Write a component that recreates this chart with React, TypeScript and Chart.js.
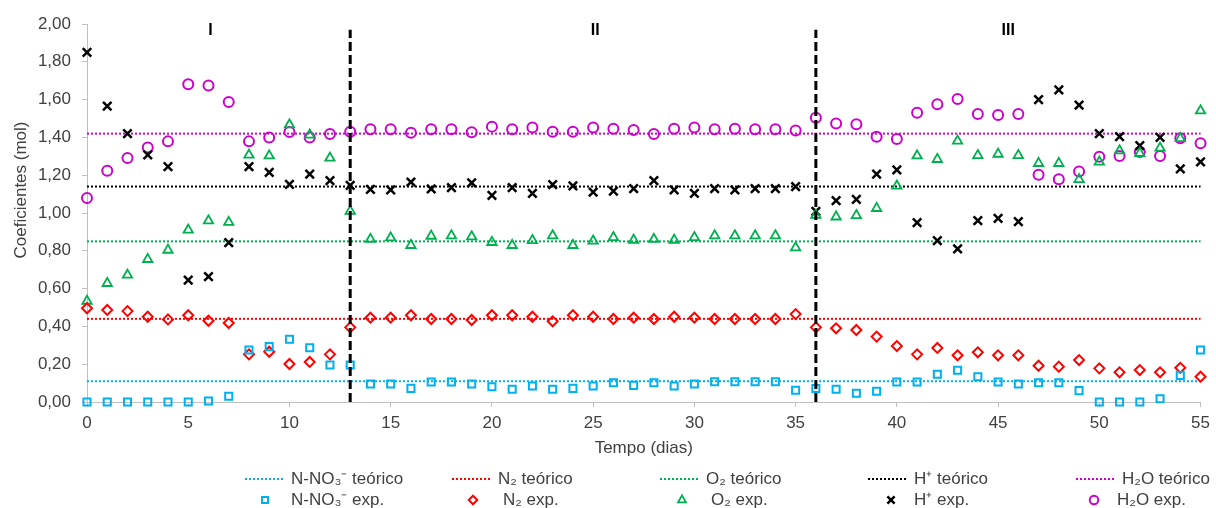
import React, { useEffect, useRef } from 'react';
import { Chart, registerables } from 'chart.js';

Chart.register(...registerables);

// ---------- data ----------
const days = [0, 1, 2, 3, 4, 5, 6, 7, 8, 9, 10, 11, 12, 13, 14, 15, 16, 17, 18, 19, 20, 21, 22, 23, 24, 25, 26, 27, 28, 29, 30, 31, 32, 33, 34, 35, 36, 37, 38, 39, 40, 41, 42, 43, 44, 45, 46, 47, 48, 49, 50, 51, 52, 53, 54, 55];

const no3Exp = [0, 0, 0, 0, 0, 0, 0.005, 0.03, 0.275, 0.293, 0.332, 0.287, 0.196, 0.196, 0.095, 0.095, 0.072, 0.106, 0.106, 0.095, 0.081, 0.067, 0.085, 0.067, 0.072, 0.085, 0.102, 0.088, 0.102, 0.085, 0.095, 0.107, 0.107, 0.107, 0.107, 0.062, 0.071, 0.067, 0.046, 0.057, 0.106, 0.106, 0.147, 0.168, 0.134, 0.106, 0.095, 0.102, 0.102, 0.06, 0, 0, 0, 0.017, 0.141, 0.275];

const n2Exp = [0.496, 0.487, 0.481, 0.451, 0.437, 0.459, 0.43, 0.418, 0.252, 0.266, 0.201, 0.212, 0.252, 0.395, 0.446, 0.446, 0.459, 0.439, 0.439, 0.434, 0.459, 0.459, 0.451, 0.427, 0.459, 0.451, 0.439, 0.446, 0.439, 0.451, 0.446, 0.439, 0.439, 0.439, 0.439, 0.465, 0.395, 0.39, 0.381, 0.346, 0.296, 0.252, 0.286, 0.247, 0.263, 0.247, 0.247, 0.192, 0.187, 0.222, 0.178, 0.157, 0.169, 0.157, 0.181, 0.134];

const o2Exp = [0.534, 0.628, 0.672, 0.755, 0.804, 0.91, 0.959, 0.951, 1.307, 1.303, 1.467, 1.413, 1.291, 1.01, 0.861, 0.869, 0.829, 0.878, 0.88, 0.875, 0.845, 0.829, 0.855, 0.88, 0.829, 0.852, 0.871, 0.857, 0.861, 0.857, 0.871, 0.88, 0.88, 0.88, 0.88, 0.817, 0.989, 0.98, 0.987, 1.025, 1.143, 1.303, 1.284, 1.381, 1.305, 1.312, 1.305, 1.263, 1.263, 1.178, 1.27, 1.33, 1.316, 1.344, 1.395, 1.541];

const hExp = [1.85, 1.566, 1.42, 1.307, 1.245, 0.645, 0.663, 0.843, 1.245, 1.215, 1.152, 1.206, 1.171, 1.146, 1.125, 1.122, 1.164, 1.127, 1.134, 1.16, 1.093, 1.134, 1.104, 1.15, 1.143, 1.11, 1.116, 1.129, 1.171, 1.122, 1.104, 1.129, 1.122, 1.129, 1.129, 1.139, 1.009, 1.065, 1.072, 1.206, 1.228, 0.949, 0.854, 0.81, 0.96, 0.972, 0.954, 1.6, 1.651, 1.571, 1.42, 1.404, 1.356, 1.4, 1.233, 1.27];

const h2oExp = [1.079, 1.224, 1.291, 1.347, 1.379, 1.681, 1.674, 1.587, 1.379, 1.399, 1.429, 1.4, 1.418, 1.43, 1.443, 1.443, 1.425, 1.443, 1.443, 1.427, 1.457, 1.443, 1.453, 1.43, 1.43, 1.453, 1.446, 1.439, 1.418, 1.446, 1.453, 1.443, 1.446, 1.443, 1.443, 1.436, 1.504, 1.474, 1.469, 1.404, 1.392, 1.531, 1.575, 1.603, 1.524, 1.519, 1.524, 1.203, 1.178, 1.219, 1.298, 1.302, 1.323, 1.302, 1.395, 1.369];

// theoretical coefficients (N-NO3-, N2, O2, H+, H2O)
const theoValues = [0.11, 0.44, 0.85, 1.14, 1.42];
const seriesNames = ['N-NO\u2083\u207B', 'N\u2082', 'O\u2082', 'H\u207A', 'H\u2082O'];
const expSeries = [no3Exp, n2Exp, o2Exp, hExp, h2oExp];

const phaseBoundaries = [13, 36];
const phaseTop = 1.97;
const phaseLabels = ['I', 'II', 'III'];
const phaseLabelX = [6.1, 25.1, 45.5];
const phaseLabelY = 1.965;

const xMin = 0;
const xMax = 55;
const xStep = 5;
const yMin = 0;
const yMax = 2;
const yStep = 0.2;

const xTitle = 'Tempo (dias)';
const yTitle = 'Coeficientes (mol)';

// ---------- styles ----------
const FONT = '"Liberation Sans", Arial, sans-serif';
const TEXT = '#404040';
const AXIS = '#BFBFBF';
const colors = ['#00B0F0', '#FF0000', '#00B050', '#000000', '#CC00CC'];
const pointStyles = ['rect', 'rectRot', 'triangle', 'crossRot', 'circle'];
const pointRadii = [5, 5, 5.4, 6, 5];
const pointWidths = [2, 2, 1.8, 2.5, 2];

function drawMarker(ctx: CanvasRenderingContext2D, style: string, x: number, y: number, r: number) {
  ctx.beginPath();
  if (style === 'rect') {
    const s = r * Math.SQRT1_2;
    ctx.rect(x - s, y - s, 2 * s, 2 * s);
  } else if (style === 'rectRot') {
    ctx.moveTo(x - r, y);
    ctx.lineTo(x, y - r);
    ctx.lineTo(x + r, y);
    ctx.lineTo(x, y + r);
    ctx.closePath();
  } else if (style === 'triangle') {
    ctx.moveTo(x, y - r);
    ctx.lineTo(x + r * 0.866, y + r * 0.5);
    ctx.lineTo(x - r * 0.866, y + r * 0.5);
    ctx.closePath();
  } else if (style === 'crossRot') {
    const s = r * Math.SQRT1_2;
    ctx.moveTo(x - s, y - s);
    ctx.lineTo(x + s, y + s);
    ctx.moveTo(x + s, y - s);
    ctx.lineTo(x - s, y + s);
  } else {
    ctx.arc(x, y, r, 0, Math.PI * 2);
  }
  ctx.stroke();
}

const overlayPlugin = {
  id: 'overlay',
  afterDraw(chart: any) {
    const ctx: CanvasRenderingContext2D = chart.ctx;
    const xs = chart.scales.x;
    const ys = chart.scales.y;
    ctx.save();

    // phase labels
    ctx.font = `bold 16px ${FONT}`;
    ctx.fillStyle = '#000';
    ctx.textAlign = 'center';
    ctx.textBaseline = 'middle';
    phaseLabels.forEach((t, i) => {
      ctx.fillText(t, xs.getPixelForValue(phaseLabelX[i]), ys.getPixelForValue(phaseLabelY));
    });

    // y axis title
    ctx.save();
    ctx.font = `17px ${FONT}`;
    ctx.fillStyle = TEXT;
    ctx.translate(21, 190);
    ctx.rotate(-Math.PI / 2);
    ctx.textAlign = 'center';
    ctx.textBaseline = 'middle';
    ctx.fillText(yTitle, 0, 0);
    ctx.restore();

    // legend
    const colX = [245, 452, 660, 868, 1076];
    const markerOff = [20, 21, 22, 23, 18];
    const textOff2 = [46, 51, 51, 46, 41];
    const row1 = 479;
    const row2 = 500;
    ctx.font = `17px ${FONT}`;
    ctx.textAlign = 'left';
    ctx.textBaseline = 'middle';
    for (let i = 0; i < 5; i++) {
      const x0 = colX[i];
      ctx.strokeStyle = colors[i];
      ctx.lineWidth = 2;
      ctx.setLineDash([2, 2]);
      ctx.beginPath();
      ctx.moveTo(x0, row1);
      ctx.lineTo(x0 + 40, row1);
      ctx.stroke();
      ctx.setLineDash([]);
      ctx.fillStyle = TEXT;
      ctx.fillText(`${seriesNames[i]} teórico`, x0 + 46, row1);

      ctx.strokeStyle = colors[i];
      ctx.lineWidth = pointWidths[i];
      drawMarker(ctx, pointStyles[i], x0 + markerOff[i], row2, pointRadii[i] * 0.85);
      ctx.fillStyle = TEXT;
      ctx.fillText(`${seriesNames[i]} exp.`, x0 + textOff2[i], row2);
    }
    ctx.restore();
  },
};

export default function App() {
  const ref = useRef<HTMLCanvasElement>(null);

  useEffect(() => {
    const canvas = ref.current;
    if (!canvas) return;

    const datasets: any[] = [];

    phaseBoundaries.forEach((b) => {
      datasets.push({
        type: 'line',
        label: `fase ${b}`,
        data: [{ x: b, y: yMin }, { x: b, y: phaseTop }],
        borderColor: '#000',
        borderWidth: 3,
        borderDash: [9, 4],
        pointRadius: 0,
        showLine: true,
        fill: false,
        clip: false,
      });
    });

    expSeries.forEach((vals, i) => {
      datasets.push({
        type: 'scatter',
        label: `${seriesNames[i]} exp.`,
        data: days.map((d, k) => ({ x: d, y: vals[k] })),
        pointStyle: pointStyles[i],
        pointRadius: pointRadii[i],
        pointBorderWidth: pointWidths[i],
        pointBorderColor: colors[i],
        pointBackgroundColor: 'rgba(0,0,0,0)',
        borderColor: colors[i],
        backgroundColor: 'rgba(0,0,0,0)',
        showLine: false,
        clip: false,
      });
    });

    theoValues.forEach((v, i) => {
      datasets.push({
        type: 'line',
        label: `${seriesNames[i]} teórico`,
        data: [{ x: xMin, y: v }, { x: xMax, y: v }],
        borderColor: colors[i],
        borderWidth: 2,
        borderDash: [2, 2],
        pointRadius: 0,
        showLine: true,
        fill: false,
        clip: false,
      });
    });

    const chart = new Chart(canvas, {
      type: 'scatter',
      data: { datasets },
      plugins: [overlayPlugin],
      options: {
        responsive: false,
        animation: false,
        devicePixelRatio: 1,
        layout: { padding: { left: 0, right: 15, top: 24, bottom: 49 } },
        plugins: {
          legend: { display: false },
          tooltip: { enabled: false },
        },
        events: [],
        scales: {
          x: {
            type: 'linear',
            min: xMin,
            max: xMax,
            ticks: {
              stepSize: xStep,
              autoSkip: false,
              maxRotation: 0,
              color: TEXT,
              font: { family: FONT, size: 17 },
              padding: 6,
            },
            grid: { display: true, drawOnChartArea: false, drawTicks: true, tickLength: 5, color: AXIS },
            border: { display: true, color: AXIS, width: 1 },
            title: {
              display: true,
              text: xTitle,
              color: TEXT,
              font: { family: FONT, size: 17 },
              padding: { top: 0, bottom: 0 },
            },
            afterFit: (s: any) => {
              s.height = 57;
            },
          },
          y: {
            type: 'linear',
            min: yMin,
            max: yMax,
            ticks: {
              stepSize: yStep,
              color: TEXT,
              font: { family: FONT, size: 17 },
              padding: 11,
              callback: (v: any) => Number(v).toFixed(2).replace('.', ','),
            },
            grid: { display: true, drawOnChartArea: false, drawTicks: true, tickLength: 5, color: AXIS },
            border: { display: true, color: AXIS, width: 1 },
            afterFit: (s: any) => {
              s.width = 87;
            },
          },
        },
      } as any,
    });

    return () => chart.destroy();
  }, []);

  return (
    <div style={{ position: 'fixed', left: 0, top: 0, width: 1216, height: 508, background: '#fff' }}>
      <canvas ref={ref} width={1216} height={508} style={{ width: 1216, height: 508, display: 'block' }} />
    </div>
  );
}
